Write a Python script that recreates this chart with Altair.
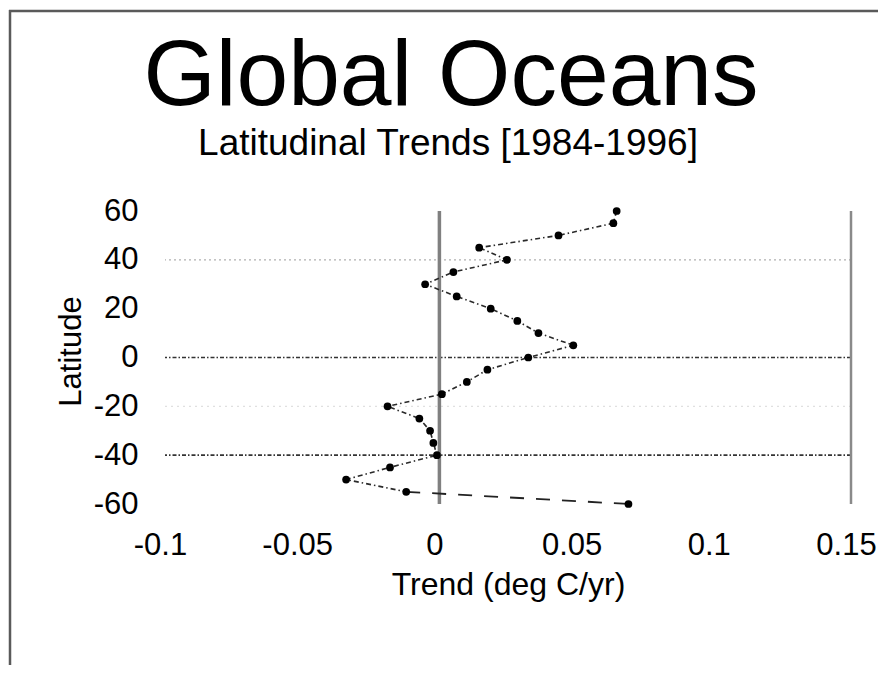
import altair as alt
import pandas as pd

# Latitude bands (deg) and their temperature trend (deg C / yr)
lats = [60, 55, 50, 45, 40, 35, 30, 25, 20, 15, 10, 5, 0,
        -5, -10, -15, -20, -25, -30, -35, -40, -45, -50, -55, -60]
trend = [0.0646, 0.0634, 0.0434, 0.0145, 0.0246, 0.0051, -0.0052, 0.0063,
         0.0187, 0.0284, 0.0361, 0.0488, 0.0324, 0.0175, 0.0100, 0.0009,
         -0.0189, -0.0073, -0.0034, -0.0022, -0.0009, -0.0180, -0.0340,
         -0.0121, 0.0689]

x_ticks = [-0.1, -0.05, 0, 0.05, 0.1, 0.15]
y_ticks = [-60, -40, -20, 0, 20, 40, 60]

grid_dark = [0, -40]
grid_light = [40]
grid_faint = [-20]
vlines_main = [0]
vlines_edge = [0.15]

title_text = ["Global Oceans"]
subtitle_text = ["Latitudinal Trends [1984-1996]"]

FONT = "Liberation Sans"

df = pd.DataFrame({"lat": lats, "trend": trend, "idx": list(range(len(lats)))})
df_main = df.iloc[:-1]
df_last = df.iloc[-2:]

xscale = alt.Scale(domain=[-0.1, 0.15], nice=False, zero=False)
yscale = alt.Scale(domain=[-60, 60], nice=False, zero=False)

xaxis = alt.Axis(values=x_ticks, labelExpr="'' + datum.value", grid=False,
                 domain=False, ticks=False, tickSize=0, labelFontSize=31,
                 labelFont=FONT, labelColor="black", labelPadding=26,
                 labelOffset=-5, labelFlush=False, labelOverlap=False,
                 title="Trend (deg C/yr)", titleFont=FONT, titleFontSize=32,
                 titleFontWeight="normal", titleColor="black",
                 titleBaseline="alphabetic", titleY=90)
yaxis = alt.Axis(values=y_ticks, labelExpr="'' + datum.value", grid=False,
                 domain=False, ticks=False, tickSize=0, labelFontSize=31,
                 labelFont=FONT, labelColor="black", labelPadding=27,
                 labelFlush=False, labelOverlap=False,
                 title="Latitude", titleFont=FONT, titleFontSize=31,
                 titleFontWeight="normal", titleColor="black",
                 titleBaseline="alphabetic", titleX=-85, titleY=140)

base = alt.Chart(df)

g_dark = alt.Chart(pd.DataFrame({"g": grid_dark})).mark_rule(
    color="#333333", strokeWidth=1.6, strokeDash=[4, 2, 1.5, 2]
).encode(y=alt.Y("g:Q", scale=yscale, axis=yaxis))

g_light = alt.Chart(pd.DataFrame({"g": grid_light})).mark_rule(
    color="#b0b0b0", strokeWidth=1.3, strokeDash=[2, 3]
).encode(y=alt.Y("g:Q", scale=yscale))

g_faint = alt.Chart(pd.DataFrame({"g": grid_faint})).mark_rule(
    color="#e0e0e0", strokeWidth=1.2, strokeDash=[2, 4]
).encode(y=alt.Y("g:Q", scale=yscale))

v_main = alt.Chart(pd.DataFrame({"v": vlines_main})).mark_rule(
    color="#808080", strokeWidth=3.5
).encode(x=alt.X("v:Q", scale=xscale, axis=xaxis))

v_edge = alt.Chart(pd.DataFrame({"v": vlines_edge})).mark_rule(
    color="#8a8a8a", strokeWidth=2.5
).encode(x=alt.X("v:Q", scale=xscale))

line_main = alt.Chart(df_main).mark_line(
    color="#2a2a2a", strokeWidth=1.6, strokeDash=[5, 3, 1.5, 3]
).encode(x=alt.X("trend:Q", scale=xscale), y=alt.Y("lat:Q", scale=yscale),
         order="idx:Q")

line_last = alt.Chart(df_last).mark_line(
    color="#222222", strokeWidth=1.8, strokeDash=[14, 12]
).encode(x=alt.X("trend:Q", scale=xscale), y=alt.Y("lat:Q", scale=yscale),
         order="idx:Q")

pts = base.mark_point(filled=True, shape="circle", size=60, color="black",
                      opacity=1).encode(
    x=alt.X("trend:Q", scale=xscale), y=alt.Y("lat:Q", scale=yscale))

# headline texts
t_main = alt.Chart(pd.DataFrame({"t": title_text})).mark_text(
    font=FONT, fontSize=93, color="black", align="center",
    baseline="alphabetic"
).encode(text="t:N", x=alt.value(286), y=alt.value(-106))
t_sub = alt.Chart(pd.DataFrame({"t": subtitle_text})).mark_text(
    font=FONT, fontSize=37, color="black", align="center",
    baseline="alphabetic"
).encode(text="t:N", x=alt.value(283), y=alt.value(-56))

# picture frame (top and left edges)
frame_top = alt.Chart(pd.DataFrame({"a": [0]})).mark_rule(
    color="#5a5a5a", strokeWidth=2.5
).encode(x=alt.value(-156), x2=alt.value(721), y=alt.value(-200))
frame_left = alt.Chart(pd.DataFrame({"a": [0]})).mark_rule(
    color="#5a5a5a", strokeWidth=2.5
).encode(x=alt.value(-155), y=alt.value(-201), y2=alt.value(462))

chart = alt.layer(
    g_faint, g_light, g_dark, v_main, v_edge, line_main, line_last, pts,
    t_main, t_sub, frame_top, frame_left
).properties(
    width=686, height=293,
    background="white",
    autosize=alt.AutoSizeParams(type="none"),
    padding={"left": 157, "top": 203, "right": 27, "bottom": 161},
).configure_view(strokeWidth=0, stroke=None)

chart.save("out.html", embed_options={"renderer": "svg", "actions": False})
